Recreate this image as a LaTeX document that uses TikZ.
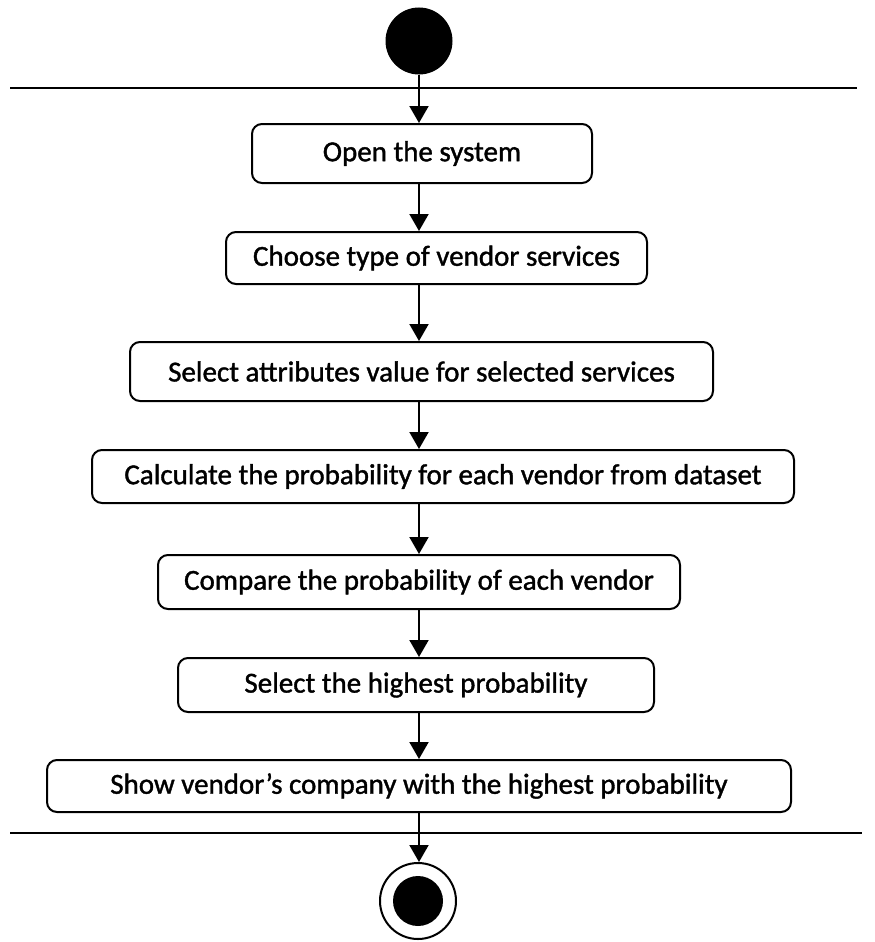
\documentclass[tikz,border=0pt]{standalone}
\usepackage{fontspec}
\setmainfont{Carlito}
\newfontfamily\actfont{Carlito}[FakeBold=1.3]
\usetikzlibrary{arrows.meta}
\tikzset{
    activity/.style={draw, line width=2pt, rounded corners=10pt, minimum height=#1, inner sep=0pt, font=\actfont\fontsize{29}{34}\selectfont},
    flow/.style={line width=2pt, -{Triangle[length=17pt,width=19pt]}},
    swim/.style={line width=2.2pt}
}
\begin{document}
\begin{tikzpicture}[x=1pt, y=-1pt]
    \useasboundingbox (0,0) rectangle (875,942);

    %Start und Ende
    \node[circle, fill=black, minimum size=67pt, inner sep=0pt] (start) at (419,41) {};
    \node[circle, draw, line width=2pt, minimum size=76pt, inner sep=0pt] (stop) at (418,901) {};
    \fill (stop.center) circle (25pt);

    %Trennlinien
    \draw[swim] (10,88) -- (857,88);
    \draw[swim] (10,833) -- (862,833);

    %Aktivitaeten
    \node[activity=59pt, minimum width=340pt] (open) at (422,153.5) {Open the system};
    \node[activity=52pt, minimum width=421pt] (choose) at (436.5,258) {Choose type of vendor services};
    \node[activity=59pt, minimum width=583pt] (attr) at (421.5,371.5) {Select attributes value for selected services};
    \node[activity=53pt, minimum width=702pt] (calc) at (443,476.5) {Calculate the probability for each vendor from dataset};
    \node[activity=54pt, minimum width=522pt] (comp) at (419,582) {Compare the probability of each vendor};
    \node[activity=54pt, minimum width=476pt] (high) at (416,685) {Select the highest probability};
    \node[activity=52pt, minimum width=744pt] (show) at (419,786) {Show vendor’s company with the highest probability};

    %Pfeile
    \draw[flow] (start) -- (open.north -| start);
    \foreach \a/\b in {open/choose, choose/attr, attr/calc, calc/comp, comp/high, high/show} {
        \draw[flow] (\a.south -| start) -- (\b.north -| start);
    }
    \draw[flow] (show.south -| start) -- (stop.north -| start);
\end{tikzpicture}
\end{document}
